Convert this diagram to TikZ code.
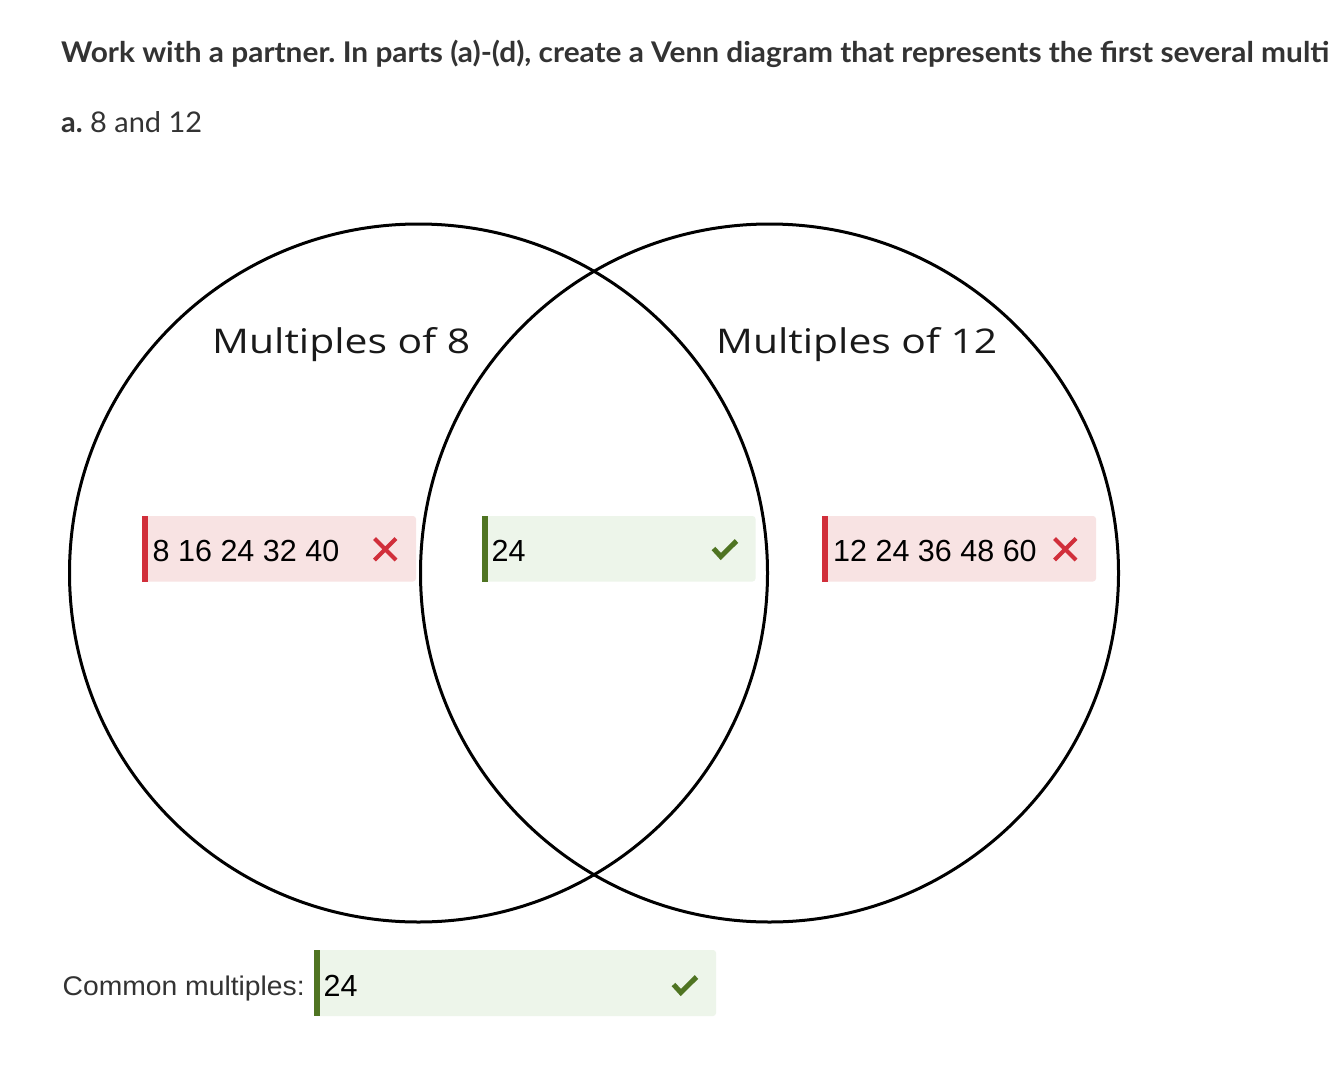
\documentclass[tikz,border=0pt]{standalone}
\usepackage{fontspec}
\usepackage{graphicx}
\setmainfont{Liberation Sans}
\newfontfamily\hdrfont{Lato}
\newfontfamily\vennfont{Open Sans}
\newfontfamily\boxfont{Liberation Sans}
\definecolor{hdrgray}{HTML}{333333}
\definecolor{badfill}{HTML}{F8E3E3}
\definecolor{badred}{HTML}{D12F3B}
\definecolor{goodfill}{HTML}{EDF5EA}
\definecolor{goodgreen}{HTML}{4F7422}
\newlength\fitlen
\newcommand\fitw[2]{\settowidth\fitlen{#2}\pgfmathsetmacro\fitsx{#1/\fitlen}\scalebox{\fitsx}[1]{#2}}
\frenchspacing
\begin{document}
\begin{tikzpicture}[x=1pt,y=-1pt,
  venn/.style={draw=black,line width=3pt},
  txt/.style={inner sep=0pt,anchor=base west},
  badbox/.style={fill=badfill,rounded corners=3pt},
  goodbox/.style={fill=goodfill,rounded corners=3pt},
  badbar/.style={fill=badred},
  goodbar/.style={fill=goodgreen},
  xmark/.style={draw=badred,line width=4pt},
  cmark/.style={draw=goodgreen,line width=5pt,line join=miter},
  boxtxt/.style={txt,font=\boxfont\fontsize{30.5}{36}\selectfont,text=black}]
\useasboundingbox[fill=white] (0,0) rectangle (1332,1070);

% header texts
\node[txt,text=hdrgray,font=\hdrfont\bfseries\fontsize{28.5}{34}\selectfont] (title) at (61,62.7)
  {\fitw{1268}{Work with a partner. In parts (a)-(d), create a Venn diagram that represents the first several multi}};
\node[txt,text=hdrgray,font=\hdrfont\fontsize{28.5}{34}\selectfont] (parta) at (61,132)
  {\fitw{141}{\textbf{a.} 8 and 12}};

% circles
\draw[venn] (418.5,573) circle[radius=349];
\draw[venn] (769.5,573) circle[radius=349];
\node[txt,text=black!90,font=\vennfont\fontsize{34}{40}\selectfont] (lab8) at (212,353) {\fitw{258}{Multiples of 8}};
\node[txt,text=black!90,font=\vennfont\fontsize{34}{40}\selectfont] (lab12) at (716,353) {\fitw{281}{Multiples of 12}};

% left box
\fill[badbox] (142,516) rectangle (416,581.5);
\fill[badbar] (142,516) rectangle (148,581.5);
\node[boxtxt] (left) at (152.5,561.7) {8 16 24 32 40};
\draw[xmark] (374.5,538.5) -- (396,560) (374.5,560) -- (396,538.5);

% middle box
\fill[goodbox] (482,516) rectangle (755.5,581.5);
\fill[goodbar] (482,516) rectangle (488,581.5);
\node[boxtxt] (mid) at (491.5,561.7) {24};
\draw[cmark] (713.5,548.5) -- (720.8,556.5) -- (736.5,541);

% right box
\fill[badbox] (822,516) rectangle (1096,581.5);
\fill[badbar] (822,516) rectangle (828,581.5);
\node[boxtxt] (right) at (833,561.7) {12 24 36 48 60};
\draw[xmark] (1054.5,538.5) -- (1076,560) (1054.5,560) -- (1076,538.5);

% common multiples
\node[txt,text=hdrgray,font=\boxfont\fontsize{27}{32}\selectfont] (common) at (62.5,995) {\fitw{242}{Common multiples:}};
\fill[goodbox] (314,950) rectangle (716,1016);
\fill[goodbar] (314,950) rectangle (320,1016);
\node[boxtxt] (bottom) at (323.5,996) {24};
\draw[cmark] (673.5,984.5) -- (680.8,992.5) -- (696.5,977);
\end{tikzpicture}
\end{document}
